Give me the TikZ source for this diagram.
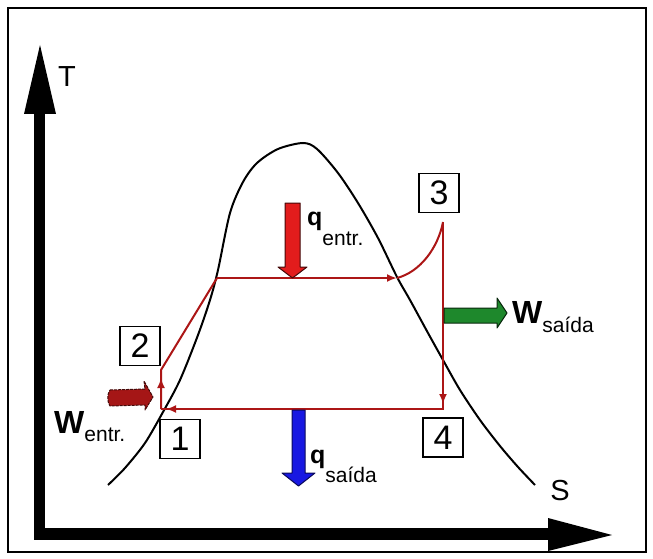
\documentclass[tikz,border=0pt]{standalone}
\usepackage{fontspec}
\setmainfont{Liberation Sans}
\usetikzlibrary{arrows.meta}
\definecolor{cycred}{RGB}{172,22,22}
\definecolor{qred}{RGB}{226,28,28}
\definecolor{qblue}{RGB}{24,24,226}
\definecolor{wgreen}{RGB}{30,136,44}
\definecolor{wdred}{RGB}{165,22,22}
\begin{document}
\begin{tikzpicture}[x=1pt,y=-1pt,
  cycline/.style={draw=cycred, line width=2pt},
  cyctip/.style={cycline, -{Latex[length=10pt,width=8pt]}},
  numbox/.style={draw, line width=1.8pt, minimum width=40pt, minimum height=39pt, inner sep=0pt, font=\fontsize{34}{34}\selectfont},
  axlabel/.style={inner sep=0pt, font=\fontsize{29}{29}\selectfont},
  qlabel/.style={inner sep=0pt, anchor=base west},
  blockarrow/.style={line width=1pt, line join=round}
]
\useasboundingbox (0,0) rectangle (653,559);
% frame
\draw[line width=1.3pt] (8,8) rectangle (646,552);
% axes
\fill (34,112) rectangle (45,540);
\fill (24,114) -- (40,45) -- (56,114) -- cycle;
\fill (34,528) rectangle (548,540);
\fill (548,518) -- (612,535) -- (548,551) -- cycle;
\node[axlabel] (T) at (67,77) {T};
\node[axlabel] (S) at (560,491) {S};
% dome
\draw[line width=2pt] plot[smooth, tension=0.5] coordinates {
 (108,485) (125,468) (145,443) (163,412) (180,380) (198,335) (210,300) (218,270)
 (230,213) (243,182) (257,163) (278,149) (303,143) (317,149) (338,173) (358,203)
 (378,238) (397,277) (410,300) (428,333) (443,360) (460,390) (480,420) (500,446)
 (518,467) (535,485)};
% cycle points
\coordinate (p1) at (161,409);
\coordinate (p1a) at (161,378);
\coordinate (p2) at (161,370);
\coordinate (p2b) at (217,278);
\coordinate (p2c) at (397,278);
\coordinate (p3) at (443,222);
\coordinate (p3a) at (443,404);
\coordinate (p4) at (443,409);
\coordinate (p1b) at (166,409);
\draw[cycline] (p1) -- (p2) -- (p2b);
\draw[cyctip] (p1) -- (p1a);
\draw[cyctip] (p2b) -- (p2c);
\draw[cycline] (p2c) .. controls (420,272) and (438,248) .. (p3);
\draw[cycline] (p3) -- (p4) -- (p1);
\draw[cyctip] (p3) -- (p3a);
\draw[cyctip] (p4) -- (p1b);
% boxes
\node[numbox] (b1) at (180,439) {1};
\node[numbox] (b2) at (140,346) {2};
\node[numbox] (b3) at (439,193) {3};
\node[numbox] (b4) at (443,437.5) {4};
% block arrows
\filldraw[blockarrow, fill=qred, draw=black!70!qred] (285,203) -- (300,203) -- (300,267) -- (307,267) -- (292.5,278) -- (278,267) -- (285,267) -- cycle;
\filldraw[blockarrow, fill=qblue, draw=black!60!qblue] (292,410) -- (305,410) -- (305,473) -- (315,473) -- (298.5,486) -- (282,473) -- (292,473) -- cycle;
\filldraw[blockarrow, fill=wgreen, draw=black!70!wgreen] (444,308) -- (497,308) -- (497,298) -- (507,313) -- (497,328) -- (497,323) -- (444,323) -- cycle;
\filldraw[blockarrow, fill=wdred, draw=black!60!wdred, dashed, dash pattern=on 3pt off 1pt] (110,390) -- (145,389) -- (144,381) -- (153,397) -- (145,410) -- (145,405) -- (110,406) .. controls (107,402) and (107,394) .. (110,390) -- cycle;
% labels
\node[qlabel] (qin) at (307,225) {\fontsize{25}{25}\selectfont\bfseries q\raisebox{-20pt}{\fontsize{21}{21}\mdseries entr.}};
\node[qlabel] (qout) at (310,463) {\fontsize{25}{25}\selectfont\bfseries q\raisebox{-19pt}{\fontsize{21}{21}\mdseries saída}};
\node[qlabel] (wout) at (512,323) {\fontsize{32}{32}\selectfont\bfseries W\raisebox{-9pt}{\fontsize{21}{21}\mdseries saída}};
\node[qlabel] (win) at (54,433) {\fontsize{32}{32}\selectfont\bfseries W\raisebox{-8pt}{\fontsize{21}{21}\mdseries entr.}};
\end{tikzpicture}
\end{document}
